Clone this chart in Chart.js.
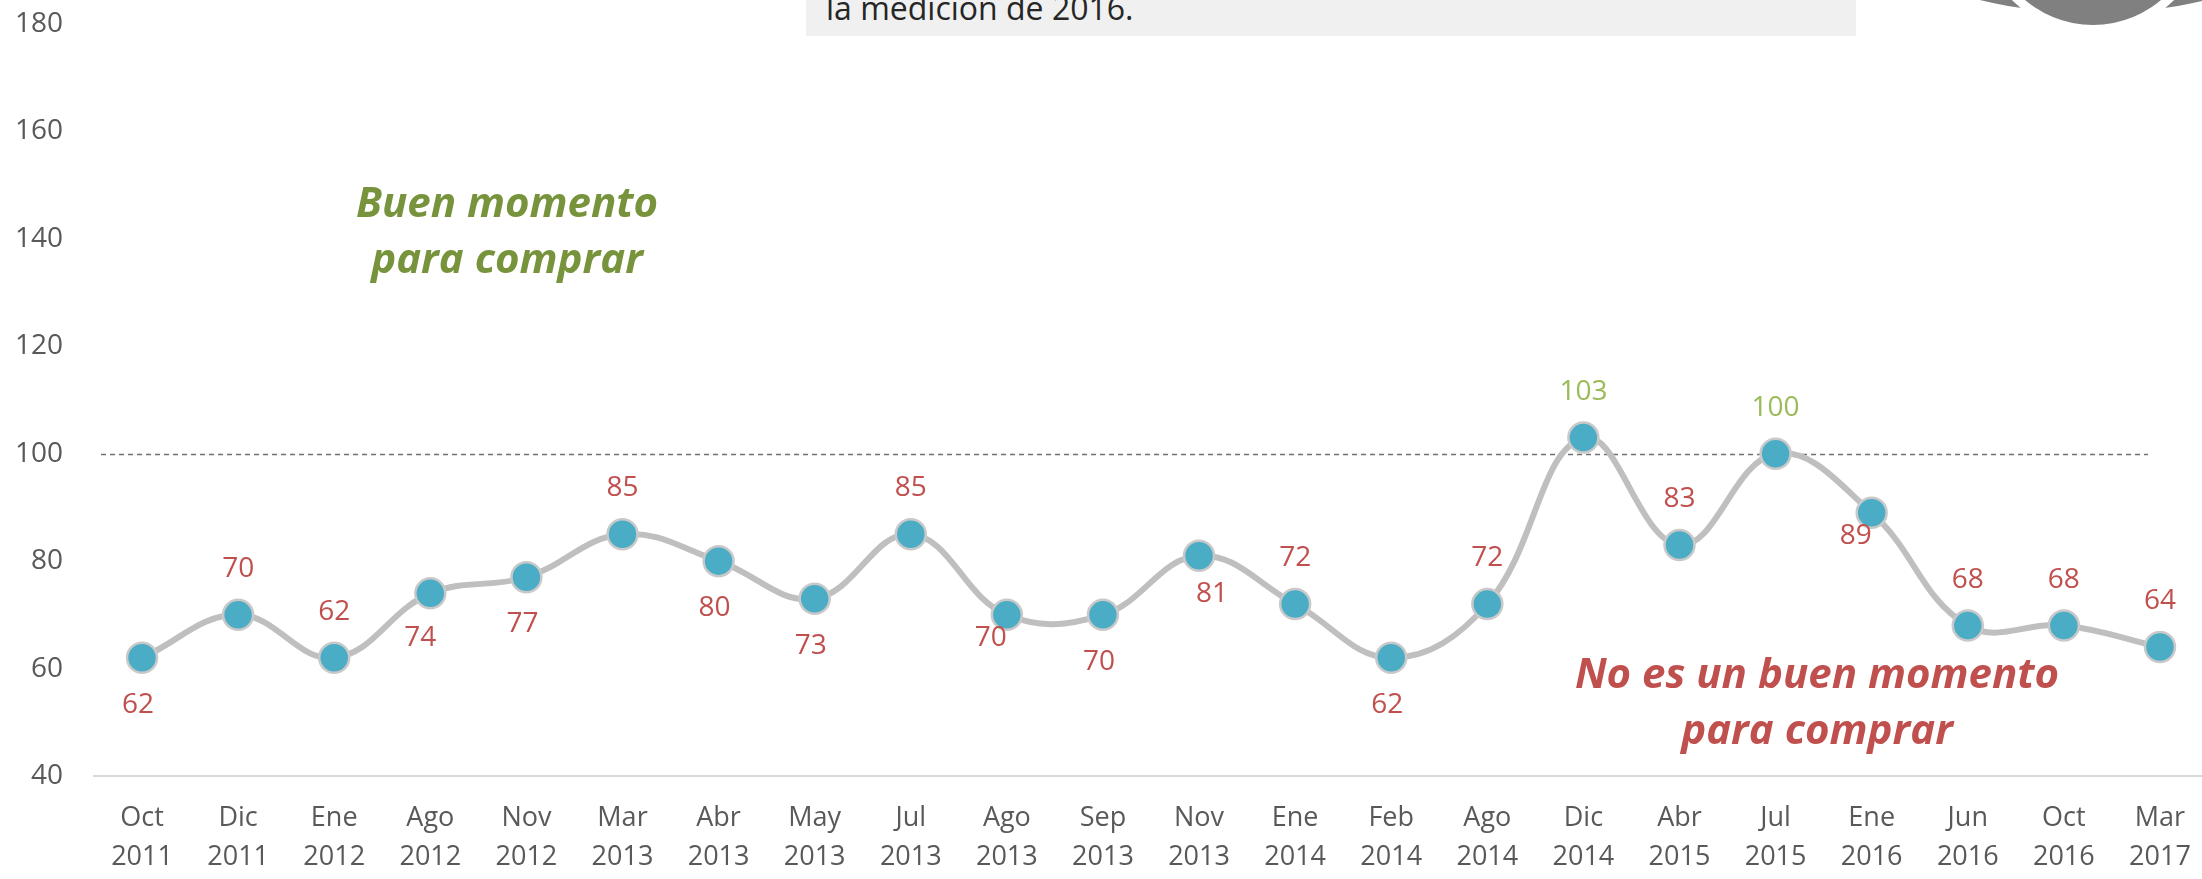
<!DOCTYPE html>
<html>
<head>
<meta charset="utf-8">
<script src="https://cdn.jsdelivr.net/npm/chart.js@4.4.1/dist/chart.umd.min.js"></script>
<style>
  html, body { margin: 0; padding: 0; background: #fff; overflow: hidden; }
  #wrap { position: relative; width: 2208px; height: 879px; }
  .note {
    position: absolute;
    font-family: "Open Sans", sans-serif;
    font-weight: 700;
    font-style: italic;
    font-size: 42px;
    line-height: 56px;
    text-align: center;
    white-space: nowrap;
  }
  .good { left: 307px; top: 173px; width: 400px; color: #77933C; }
  .bad { left: 1517px; top: 644px; width: 600px; color: #C0504D; }
  .topbox {
    position: absolute; left: 806px; top: 0; width: 1050px; height: 36px;
    background: #f0f0f0; overflow: hidden;
  }
  .topbox span {
    position: absolute; left: 20px; top: -10px;
    font-family: "Open Sans", sans-serif; font-size: 32px; line-height: 36px;
    color: #262626; white-space: nowrap;
  }
</style>
</head>
<body>
<div id="wrap">
  <canvas id="chart" width="2208" height="879"></canvas>
  <div class="topbox"><span>la medición de 2016.</span></div>
  <div class="note good">Buen momento<br>para comprar</div>
  <div class="note bad">No es un buen momento<br>para comprar</div>
</div>
<script>
// periods (month / year)
const months = ['Oct', 'Dic', 'Ene', 'Ago', 'Nov', 'Mar', 'Abr', 'May', 'Jul', 'Ago', 'Sep',
  'Nov', 'Ene', 'Feb', 'Ago', 'Dic', 'Abr', 'Jul', 'Ene', 'Jun', 'Oct', 'Mar'];
const years = ['2011', '2011', '2012', '2012', '2012', '2013', '2013', '2013', '2013', '2013', '2013',
  '2013', '2014', '2014', '2014', '2014', '2015', '2015', '2016', '2016', '2016', '2017'];

// index values
const indexValues = [62, 70, 62, 74, 77, 85, 80, 73, 85, 70, 70, 81, 72, 62, 72, 103, 83, 100, 89, 68, 68, 64];

const yTicks = [40, 60, 80, 100, 120, 140, 160, 180];
const refLine = 100;

// where each value label sits relative to its point
const labelPos = ['below', 'above', 'above', 'belowLeft', 'below', 'above', 'below', 'below', 'above', 'near', 'below',
  'belowRight', 'above', 'below', 'above', 'above', 'above', 'above', 'near', 'above', 'above', 'above'];
const labelOffsets = {
  above: [0, -46],
  below: [-4, 47],
  belowLeft: [-10, 45],
  belowRight: [13, 38],
  near: [-16, 23],
};

const RED = '#C0504D';
const GREEN = '#9BBB59';
const labels = months.map((m, i) => [m, years[i]]);

const refLinePlugin = {
  id: 'refLine',
  beforeDatasetsDraw(chart) {
    const { ctx, scales: { x, y } } = chart;
    const py = Math.round(y.getPixelForValue(refLine)) + 0.5;
    ctx.save();
    ctx.strokeStyle = '#6f6f6f';
    ctx.lineWidth = 1.3;
    ctx.setLineDash([5, 4]);
    ctx.beginPath();
    ctx.moveTo(x.getPixelForValue(0) - 41, py);
    ctx.lineTo(x.getPixelForValue(indexValues.length - 1) - 12, py);
    ctx.stroke();
    ctx.restore();
  },
};

const valueLabels = {
  id: 'valueLabels',
  afterDatasetsDraw(chart) {
    const { ctx } = chart;
    const meta = chart.getDatasetMeta(0);
    ctx.save();
    ctx.font = '28px "Open Sans", sans-serif';
    ctx.textAlign = 'center';
    ctx.textBaseline = 'middle';
    meta.data.forEach((pt, i) => {
      const v = indexValues[i];
      const [dx, dy] = labelOffsets[labelPos[i]];
      ctx.fillStyle = v >= refLine ? GREEN : RED;
      ctx.fillText(String(v), pt.x + dx, pt.y + dy);
    });
    ctx.restore();
  },
};

// grey logo cut off at the top right corner
const logo = {
  id: 'logo',
  afterDraw(chart) {
    const { ctx } = chart;
    ctx.save();
    ctx.fillStyle = '#808080';
    ctx.beginPath();
    ctx.ellipse(2093, -80, 222, 93, 0, 0, Math.PI * 2);
    ctx.fill();
    ctx.fillStyle = '#ffffff';
    ctx.beginPath();
    ctx.arc(2093, -80, 114, 0, Math.PI * 2);
    ctx.fill();
    ctx.fillStyle = '#808080';
    ctx.beginPath();
    ctx.arc(2093, -80, 105, 0, Math.PI * 2);
    ctx.fill();
    ctx.restore();
  },
};

new Chart(document.getElementById('chart'), {
  type: 'line',
  data: {
    labels: labels,
    datasets: [
      {
        data: indexValues,
        borderColor: '#BFBFBF',
        borderWidth: 6,
        tension: 0.4,
        pointRadius: 15,
        pointBorderWidth: 2.5,
        pointBackgroundColor: '#4BACC6',
        pointBorderColor: '#C9C9C9',
        clip: false,
      },
    ],
  },
  options: {
    responsive: false,
    animation: false,
    layout: { autoPadding: false, padding: { top: 24, right: 0, left: 0, bottom: 0 } },
    plugins: {
      legend: { display: false },
      tooltip: { enabled: false },
    },
    scales: {
      x: {
        offset: true,
        grid: { display: false, drawTicks: false },
        border: { display: true, color: '#D9D9D9', width: 2 },
        ticks: {
          padding: 23,
          color: '#595959',
          maxRotation: 0,
          autoSkip: false,
          font: { family: 'Open Sans', size: 27, lineHeight: 1.44 },
        },
        afterFit(scale) {
          scale.height = 103;
          scale.paddingLeft = 0;
          scale.paddingRight = 0;
        },
      },
      y: {
        min: 40,
        max: 180,
        grid: { display: false, drawTicks: false },
        border: { display: false },
        afterBuildTicks(scale) {
          scale.ticks = yTicks.map((v) => ({ value: v }));
        },
        ticks: {
          padding: 31,
          color: '#595959',
          font: { family: 'Open Sans', size: 28 },
        },
        afterFit(scale) {
          scale.width = 94;
          scale.paddingTop = 0;
          scale.paddingBottom = 0;
        },
      },
    },
  },
  plugins: [refLinePlugin, valueLabels, logo],
});
</script>
</body>
</html>
